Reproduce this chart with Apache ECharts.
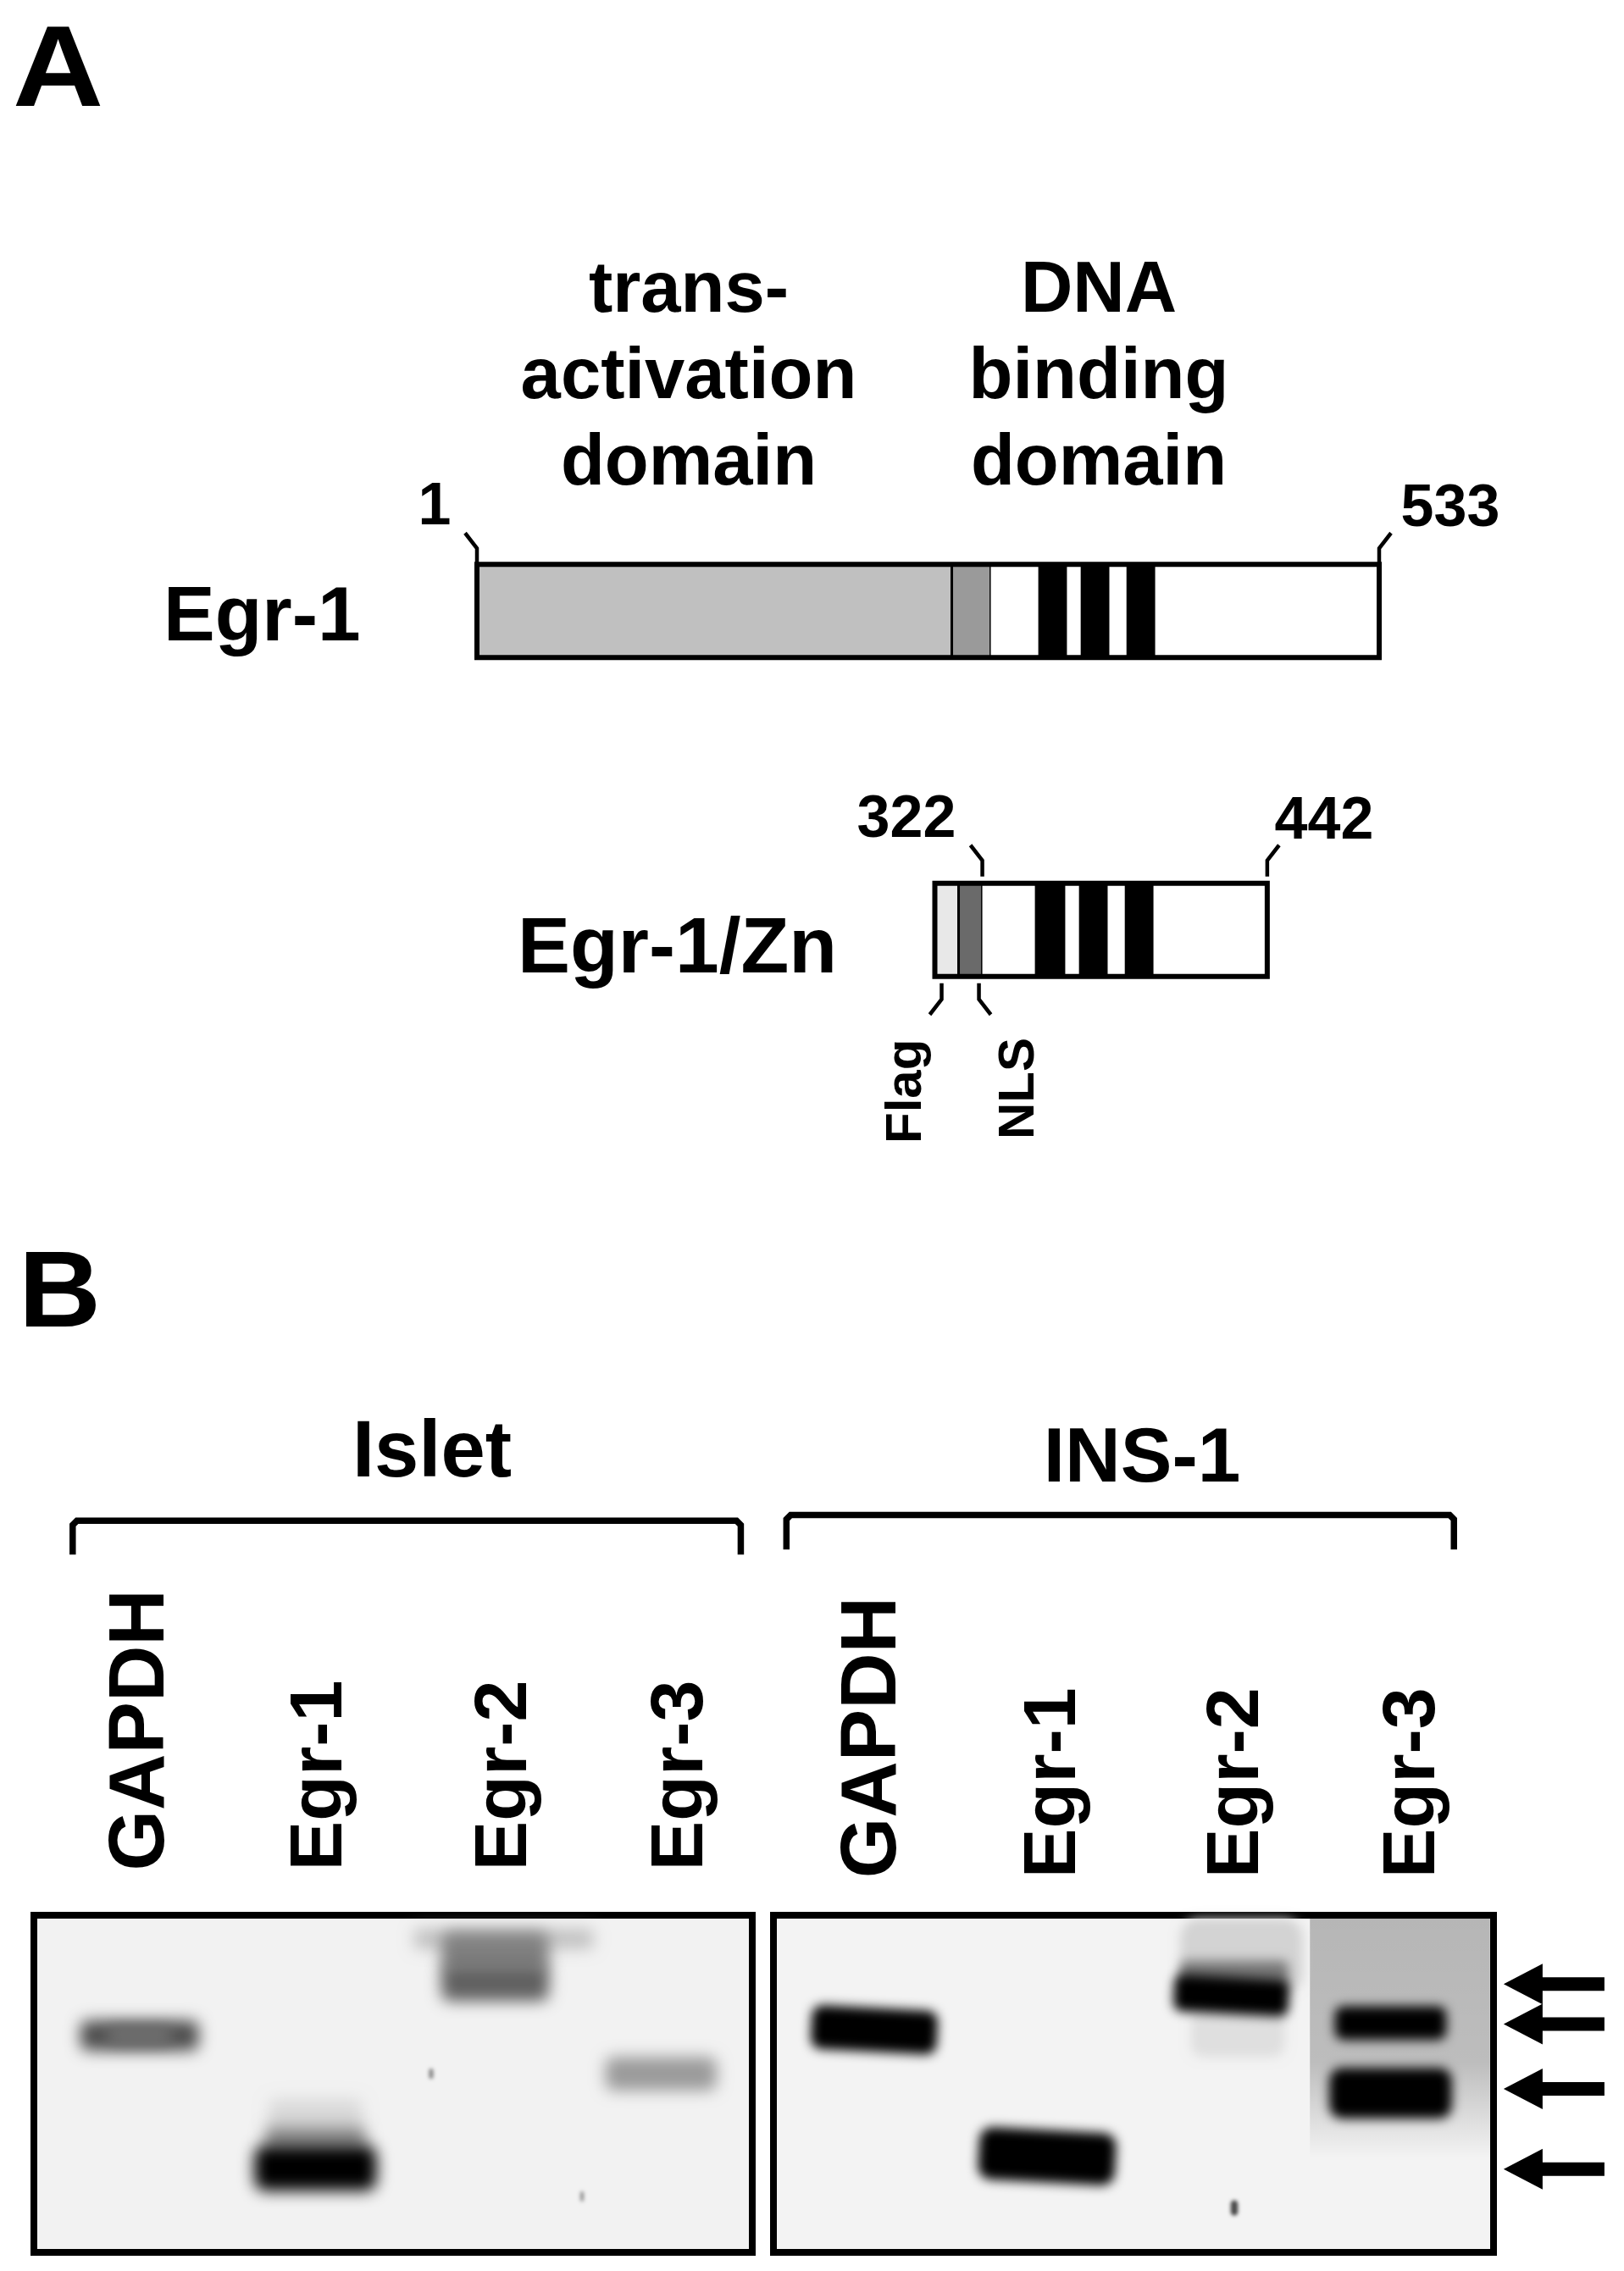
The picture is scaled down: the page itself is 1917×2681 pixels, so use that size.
<!DOCTYPE html>
<html><head><meta charset="utf-8">
<style>html,body{margin:0;padding:0;background:#fff}#c{width:1917px;height:2681px}</style>
<script src="https://cdn.jsdelivr.net/npm/echarts@6/dist/echarts.min.js"></script>
</head><body><div id="c"></div>
<script>
// ---------- Panel A data (residue numbers) ----------
const proteins = ['Egr-1', 'Egr-1/Zn'];
const segStart = [1, 281, 304, 332, 349, 357, 374, 384, 401,   271, 285, 299, 330, 348, 356, 373, 383, 400];
const segEnd   = [281, 304, 332, 349, 357, 374, 384, 401, 533, 285, 299, 330, 348, 356, 373, 383, 400, 467];
const segRow   = [0, 0, 0, 0, 0, 0, 0, 0, 0,                    1, 1, 1, 1, 1, 1, 1, 1, 1];
const segKind  = ['trans','basic','plain','zinc','plain','zinc','plain','zinc','plain',
                  'flag','nls','plain','zinc','plain','zinc','plain','zinc','plain'];
const boxStart = [1, 271];
const boxEnd   = [533, 467];
const leaderResidue = [1, 533, 299, 467, 275, 297];
const leaderRow     = [0, 0, 1, 1, 1, 1];
const leaderSide    = ['up','up','up','up','down','down'];
const leaderLean    = [-1, 1, -1, 1, -1, 1];

// ---------- Panel B data (gel units: % of blot width / % of blot height) ----------
const laneNames = ['GAPDH', 'Egr-1', 'Egr-2', 'Egr-3'];
const isletLaneX = [15, 39.9, 65.7, 90.2];
const isletLaneY = [-13.2, -13.2, -13.2, -13.2];
const ins1LaneX  = [14, 39, 64.4, 88.9];
const ins1LaneY  = [-11, -11, -11, -11];

const isletBandX = [65.4, 64.2, 64.2, 14.7, 14.7, 39.2, 39.2, 39.2, 87.3];
const isletBandY = [7, 11, 20, 35.7, 35.7, 59, 66, 75, 47];
const isletBandW = [25, 15, 15, 16.5, 9, 13, 14, 17, 15.5];
const isletBandH = [6, 12, 11, 9, 5, 9, 7, 13.5, 10];
const isletBandI = [0.2, 0.47, 0.6, 0.68, 0.52, 0.1, 0.42, 1, 0.36];

const ins1BandX = [65, 64.5, 64, 63.6, 14, 38, 85.7, 85.7];
const ins1BandY = [12, 35, 17, 23.8, 34, 71.5, 32, 52.8];
const ins1BandW = [17, 13, 15, 16, 17.5, 19, 15.5, 17];
const ins1BandH = [22, 14, 7, 11, 13, 15.5, 10, 15];
const ins1BandI = [0.13, 0.08, 0.5, 1, 1, 1, 1, 1];
const ins1BandTilt = [0, 0, 0, -3, -3, -3, 0, 0];

const isletSpeckX = [55.3, 76.3];
const isletSpeckY = [47, 83.4];
const isletSpeckW = [0.6, 0.5];
const isletSpeckH = [3, 3];
const isletSpeckI = [0.45, 0.4];
const ins1SpeckX = [64];
const ins1SpeckY = [86.8];
const ins1SpeckW = [1];
const ins1SpeckH = [4.5];
const ins1SpeckI = [0.7];

const washX0 = [74.5];
const washX1 = [99.5];
const washY0 = [1];
const washY1 = [72];
const washPeak = [0.25];

const arrowLevels = [20.4, 32.3, 51.5, 75.3];
const arrowTip = 101.4;
const arrowTail = 115.4;

const kindColor = {trans:'#c0c0c0', basic:'#9a9a9a', plain:'#ffffff', zinc:'#000000', flag:'#e8e8e8', nls:'#6a6a6a'};
const grey = i => { const v = Math.round(242 * (1 - i)); return `rgb(${v},${v},${v})`; };
const FONT = '"Liberation Sans", Arial, sans-serif';
const OFF = 4000;

function bandSeries(gridIndex, X, Y, W, H, I, tilt, blur, z) {
  return {
    type: 'custom', xAxisIndex: gridIndex, yAxisIndex: gridIndex, silent: true, z: z || 4,
    data: X.map((x, i) => [x, Y[i], W[i], H[i], I[i], tilt ? tilt[i] : 0]),
    encode: {x: 0, y: 1},
    renderItem(params, api) {
      const p = api.coord([api.value(0), api.value(1)]);
      const s = api.size([api.value(2), api.value(3)], [api.value(0), api.value(1)]);
      const c = grey(api.value(4));
      return {
        type: 'rect',
        shape: {x: p[0] - s[0] / 2 - OFF, y: p[1] - s[1] / 2, width: s[0], height: s[1], r: s[1] * 0.25},
        originX: p[0] - OFF, originY: p[1],
        rotation: api.value(5) * Math.PI / 180,
        style: {fill: c, shadowColor: c, shadowBlur: blur, shadowOffsetX: OFF}
      };
    }
  };
}
function washSeries(gridIndex) {
  return {
    type: 'custom', xAxisIndex: gridIndex, yAxisIndex: gridIndex, silent: true, z: 3,
    data: washX0.map((x, i) => [x, washY0[i], washX1[i], washY1[i], washPeak[i]]),
    encode: {x: 0, y: 1},
    renderItem(params, api) {
      const a = api.coord([api.value(0), api.value(1)]);
      const b = api.coord([api.value(2), api.value(3)]);
      const alpha = api.value(4);
      return {
        type: 'rect', shape: {x: a[0], y: a[1], width: b[0] - a[0], height: b[1] - a[1]},
        style: {fill: {type: 'linear', x: 0, y: 0, x2: 0, y2: 1, colorStops: [
          {offset: 0, color: `rgba(0,0,0,${alpha})`},
          {offset: 0.6, color: `rgba(0,0,0,${alpha * 0.9})`},
          {offset: 1, color: 'rgba(0,0,0,0)'}]}}
      };
    }
  };
}
function laneLabelSeries(gridIndex, X, Y) {
  return {
    type: 'custom', xAxisIndex: gridIndex, yAxisIndex: gridIndex, silent: true, z: 5,
    data: X.map((x, i) => [x, Y[i]]),
    encode: {x: 0, y: 1},
    renderItem(params, api) {
      const p = api.coord([api.value(0), api.value(1)]);
      const name = laneNames[params.dataIndex];
      return {
        type: 'text', x: p[0], y: p[1], rotation: Math.PI / 2,
        style: {text: name, font: `bold ${name === 'GAPDH' ? 92 : 88}px ${FONT}`, fill: '#000',
                textAlign: 'left', textVerticalAlign: 'middle'}
      };
    }
  };
}
function bracketSeries(gridIndex, x0, x1, yTop, yBottom) {
  return {
    type: 'custom', xAxisIndex: gridIndex, yAxisIndex: gridIndex, silent: true, z: 5,
    data: [[x0, yTop, x1, yBottom]], encode: {x: 0, y: 1},
    renderItem(params, api) {
      const a = api.coord([api.value(0), api.value(1)]);
      const b = api.coord([api.value(2), api.value(3)]);
      return {
        type: 'polyline',
        shape: {points: [[a[0], b[1]], [a[0], a[1] + 5], [a[0] + 5, a[1]], [b[0] - 5, a[1]], [b[0], a[1] + 5], [b[0], b[1]]]},
        style: {fill: 'none', stroke: '#000', lineWidth: 7.5}
      };
    }
  };
}

const gridA = {left: 563, width: 1065, top: 533, height: 753};
const option = {
  animation: false,
  backgroundColor: '#fff',
  grid: [
    {...gridA, show: false},
    {left: 40, width: 848, top: 2261, height: 398, show: true, backgroundColor: '#f2f2f2', borderColor: '#000', borderWidth: 8},
    {left: 913, width: 850, top: 2261, height: 398, show: true, backgroundColor: '#f3f3f3', borderColor: '#000', borderWidth: 8}
  ],
  xAxis: [
    {gridIndex: 0, type: 'value', min: 1, max: 533, show: false},
    {gridIndex: 1, type: 'value', min: 0, max: 100, show: false},
    {gridIndex: 2, type: 'value', min: 0, max: 100, show: false}
  ],
  yAxis: [
    {gridIndex: 0, type: 'category', data: proteins, inverse: true, show: false},
    {gridIndex: 1, type: 'value', min: 0, max: 100, inverse: true, show: false},
    {gridIndex: 2, type: 'value', min: 0, max: 100, inverse: true, show: false}
  ],
  series: [
    { // domain segments
      type: 'custom', xAxisIndex: 0, yAxisIndex: 0, silent: true, z: 2,
      data: segStart.map((s, i) => [s, segRow[i], segEnd[i]]),
      encode: {x: 0, y: 1},
      renderItem(params, api) {
        const a = api.coord([api.value(0), api.value(1)]);
        const b = api.coord([api.value(2), api.value(1)]);
        const kind = segKind[params.dataIndex];
        const h = 110;
        return {type: 'rect', shape: {x: a[0], y: a[1] - h / 2, width: b[0] - a[0], height: h},
                style: {fill: kindColor[kind], stroke: kind === 'plain' ? null : '#000', lineWidth: kind === 'zinc' ? 0 : 3}};
      }
    },
    { // box outlines
      type: 'custom', xAxisIndex: 0, yAxisIndex: 0, silent: true, z: 3,
      data: boxStart.map((s, i) => [s, i, boxEnd[i]]),
      encode: {x: 0, y: 1},
      renderItem(params, api) {
        const a = api.coord([api.value(0), api.value(1)]);
        const b = api.coord([api.value(2), api.value(1)]);
        const h = 110;
        return {type: 'rect', shape: {x: a[0], y: a[1] - h / 2, width: b[0] - a[0], height: h},
                style: {fill: 'none', stroke: '#000', lineWidth: 6}};
      }
    },
    { // leader ticks
      type: 'custom', xAxisIndex: 0, yAxisIndex: 0, silent: true, z: 3,
      data: leaderResidue.map((r, i) => [r, leaderRow[i]]),
      encode: {x: 0, y: 1},
      renderItem(params, api) {
        const p = api.coord([api.value(0), api.value(1)]);
        const up = leaderSide[params.dataIndex] === 'up';
        const lean = leaderLean[params.dataIndex];
        const gap = api.value(1) === 1 ? 63 : 55;
        const dir = up ? -1 : 1;
        return {type: 'polyline',
                shape: {points: [[p[0], p[1] + dir * gap], [p[0], p[1] + dir * (gap + 19)], [p[0] + lean * 14, p[1] + dir * (gap + 37)]]},
                style: {fill: 'none', stroke: '#000', lineWidth: 4.5}};
      }
    },
    washSeries(2),
    bandSeries(1, isletBandX, isletBandY, isletBandW, isletBandH, isletBandI, null, 18),
    bandSeries(2, ins1BandX, ins1BandY, ins1BandW, ins1BandH, ins1BandI, ins1BandTilt, 13),
    bandSeries(1, isletSpeckX, isletSpeckY, isletSpeckW, isletSpeckH, isletSpeckI, null, 4),
    bandSeries(2, ins1SpeckX, ins1SpeckY, ins1SpeckW, ins1SpeckH, ins1SpeckI, null, 4),
    laneLabelSeries(1, isletLaneX, isletLaneY),
    laneLabelSeries(2, ins1LaneX, ins1LaneY),
    bracketSeries(1, 5.4, 98.4, -117, -107),
    bracketSeries(2, 1.8, 94.5, -118.7, -108.5),
    { // arrows
      type: 'custom', xAxisIndex: 2, yAxisIndex: 2, silent: true, z: 5,
      data: arrowLevels.map(v => [arrowTip, v, arrowTail]),
      encode: {x: 0, y: 1},
      renderItem(params, api) {
        const a = api.coord([api.value(0), api.value(1)]);
        const b = api.coord([api.value(2), api.value(1)]);
        return {type: 'polygon',
                shape: {points: [[a[0], a[1]], [a[0] + 46, a[1] - 24], [a[0] + 46, a[1] - 8], [b[0], a[1] - 8],
                                 [b[0], a[1] + 8], [a[0] + 46, a[1] + 8], [a[0] + 46, a[1] + 24]]},
                style: {fill: '#000'}};
      }
    }
  ],
  graphic: [
    ['A', 15, 88, 135, 'left', 1.1], ['B', 22, 1531, 128, 'left', 1.05],
    ['trans-', 813, 345, 85, 'center'], ['activation', 813, 447, 85, 'center'], ['domain', 813, 549, 85, 'center'],
    ['DNA', 1297, 345, 85, 'center'], ['binding', 1297, 447, 85, 'center'], ['domain', 1297, 549, 85, 'center'],
    ['1', 513, 600, 70, 'center'], ['533', 1712, 602, 70, 'center'],
    ['322', 1070, 969, 70, 'center'], ['442', 1563, 971, 70, 'center'],
    ['Egr-1', 193, 731, 91, 'left'], ['Egr-1/Zn', 611, 1122, 93, 'left'],
    ['Islet', 510, 1717, 94, 'center'], ['INS-1', 1348, 1724, 91, 'center']
  ].map(([text, x, y, size, align, sx]) => ({
    type: 'text', x, y, z: 10, scaleX: sx || 1,
    style: {text, font: `bold ${size}px ${FONT}`, fill: '#000', textAlign: align, textVerticalAlign: 'middle'}
  })).concat([
    ['Flag', 1070, 1350, 60], ['NLS', 1203, 1345, 60]
  ].map(([text, x, y, size]) => ({
    type: 'text', x, y, z: 10, rotation: Math.PI / 2,
    style: {text, font: `bold ${size}px ${FONT}`, fill: '#000', textAlign: 'left', textVerticalAlign: 'middle'}
  })))
};
echarts.init(document.getElementById('c')).setOption(option);
</script>
</body></html>
